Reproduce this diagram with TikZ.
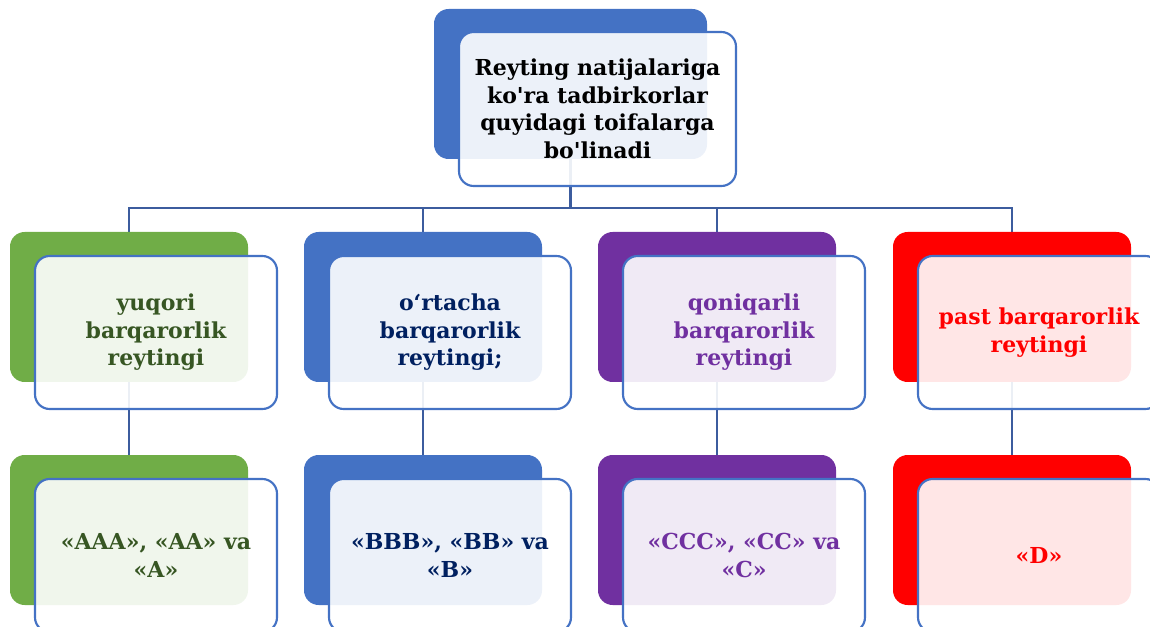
\documentclass[tikz,border=0pt]{standalone}
\usepackage{fontspec}
\setmainfont{DejaVu Serif}[Ligatures=TeXOff]
\usetikzlibrary{positioning,backgrounds}

\definecolor{boxblue}{RGB}{68,114,196}
\definecolor{linkblue}{RGB}{60,92,158}
\definecolor{catgreen}{RGB}{112,173,71}
\definecolor{catpurple}{RGB}{112,48,160}
\definecolor{catred}{RGB}{255,0,0}
\definecolor{txtgreen}{RGB}{55,86,35}
\definecolor{txtnavy}{RGB}{0,32,96}

\begin{document}
\begin{tikzpicture}[x=0.75pt, y=-0.75pt,
    back/.style={rectangle, rounded corners=11pt, minimum width=178.5pt, minimum height=112.5pt, inner sep=0pt},
    front/.style={rectangle, draw=boxblue, line width=1.6pt, fill=white, fill opacity=0.9, text opacity=1,
        rounded corners=11pt, minimum width=181.5pt, minimum height=114.75pt, inner sep=0pt,
        align=center, font=\fontsize{16.5}{20.6}\selectfont\bfseries},
    link/.style={draw=linkblue, line width=1.8pt}
]
    \useasboundingbox (0,0) rectangle (1150,627);
    \clip (0,0) rectangle (1150,627);

    % Top
    \node[back, fill=boxblue, minimum width=204.75pt] (topback) at (570.5,84) {};
    \node[front, minimum width=207.75pt, minimum height=115.5pt] (top) at (597.5,109)
        {Reyting natijalariga\\ko'ra tadbirkorlar\\quyidagi toifalarga\\bo'linadi};

    % Categories
    \node[back, fill=catgreen] (greenback) at (129,307) {};
    \node[front, text=txtgreen] (green) at (156,332.5) {yuqori\\barqarorlik\\reytingi};
    \node[back, fill=boxblue] (blueback) at (423,307) {};
    \node[front, text=txtnavy] (blue) at (450,332.5) {o‘rtacha\\barqarorlik\\reytingi;};
    \node[back, fill=catpurple] (purpleback) at (717,307) {};
    \node[front, text=catpurple] (purple) at (744,332.5) {qoniqarli\\barqarorlik\\reytingi};
    \node[back, fill=catred] (redback) at (1012,307) {};
    \node[front, text=catred] (red) at (1039,332.5) {past barqarorlik\\reytingi};

    % Ratings
    \node[back, fill=catgreen] (aback) at (129,530) {};
    \node[front, text=txtgreen] (a) at (156,555.5) {«AAA», «AA» va\\«A»};
    \node[back, fill=boxblue] (bback) at (423,530) {};
    \node[front, text=txtnavy] (b) at (450,555.5) {«BBB», «BB» va\\«B»};
    \node[back, fill=catpurple] (cback) at (717,530) {};
    \node[front, text=catpurple] (c) at (744,555.5) {«CCC», «CC» va\\«C»};
    \node[back, fill=catred] (dback) at (1012,530) {};
    \node[front, text=catred] (d) at (1039,555.5) {«D»};

    % Links
    \coordinate (bus) at (570.5,208);
    \begin{scope}[on background layer]
        \draw[link] (topback.south) -- (bus) -| (greenback.north);
        \draw[link] (bus) -| (blueback.north);
        \draw[link] (bus) -| (purpleback.north);
        \draw[link] (bus) -| (redback.north);
        \draw[link] (greenback.south) -- (aback.north);
        \draw[link] (blueback.south) -- (bback.north);
        \draw[link] (purpleback.south) -- (cback.north);
        \draw[link] (redback.south) -- (dback.north);
    \end{scope}

\end{tikzpicture}
\end{document}
